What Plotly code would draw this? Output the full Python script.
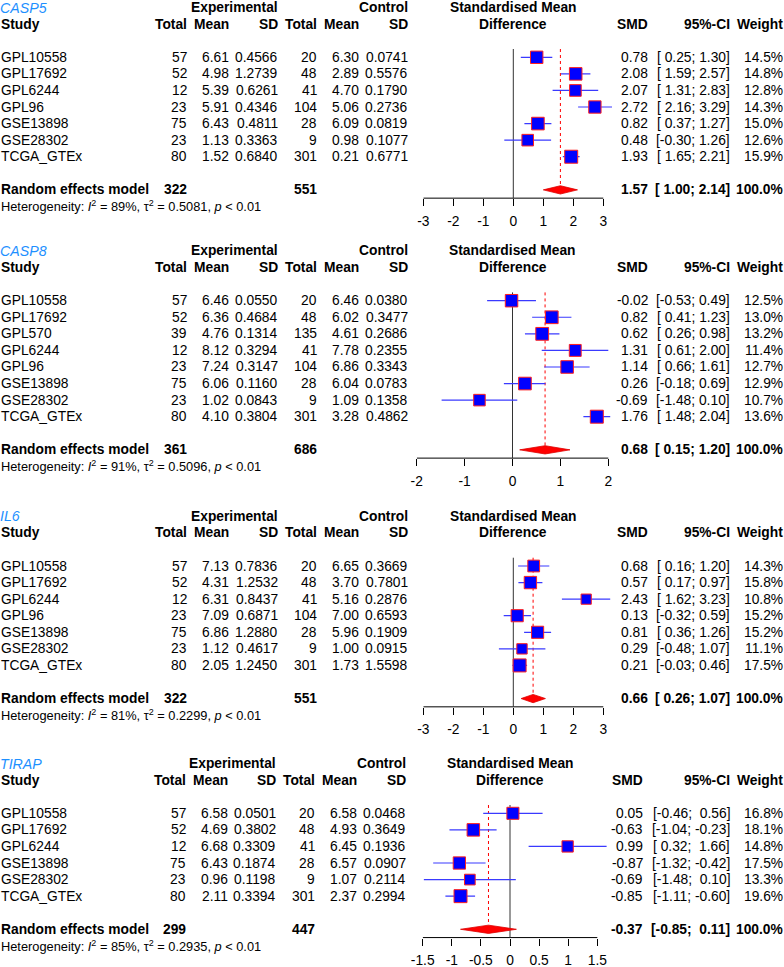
import plotly.graph_objects as go

W, H = 784, 967
FONT = "Liberation Sans, Arial, sans-serif"
FS = 13.8

# ---------------- DATA ----------------
casp5_studies = ["GPL10558", "GPL17692", "GPL6244", "GPL96", "GSE13898", "GSE28302", "TCGA_GTEx"]
casp5_exp_total = [57, 52, 12, 23, 75, 23, 80]
casp5_exp_mean = [6.61, 4.98, 5.39, 5.91, 6.43, 1.13, 1.52]
casp5_exp_sd = [0.4566, 1.2739, 0.6261, 0.4346, 0.4811, 0.3363, 0.6840]
casp5_ctrl_total = [20, 48, 41, 104, 28, 9, 301]
casp5_ctrl_mean = [6.30, 2.89, 4.70, 5.06, 6.09, 0.98, 0.21]
casp5_ctrl_sd = [0.0741, 0.5576, 0.1790, 0.2736, 0.0819, 0.1077, 0.6771]
casp5_smd = [0.78, 2.08, 2.07, 2.72, 0.82, 0.48, 1.93]
casp5_lo = [0.25, 1.59, 1.31, 2.16, 0.37, -0.30, 1.65]
casp5_hi = [1.30, 2.57, 2.83, 3.29, 1.27, 1.26, 2.21]
casp5_weight = [14.5, 14.8, 12.8, 14.3, 15.0, 12.6, 15.9]
casp5_pooled = [322, 551, 1.57, 1.00, 2.14]  # exp total, ctrl total, SMD, lo, hi
casp5_het = [89, 0.5081, "0.01"]
casp5_ticks = [-3, -2, -1, 0, 1, 2, 3]
casp5_ticklabels = ["-3", "-2", "-1", "0", "1", "2", "3"]

casp8_studies = ["GPL10558", "GPL17692", "GPL570", "GPL6244", "GPL96", "GSE13898", "GSE28302", "TCGA_GTEx"]
casp8_exp_total = [57, 52, 39, 12, 23, 75, 23, 80]
casp8_exp_mean = [6.46, 6.36, 4.76, 8.12, 7.24, 6.06, 1.02, 4.10]
casp8_exp_sd = [0.0550, 0.4684, 0.1314, 0.3294, 0.3147, 0.1160, 0.0843, 0.3804]
casp8_ctrl_total = [20, 48, 135, 41, 104, 28, 9, 301]
casp8_ctrl_mean = [6.46, 6.02, 4.61, 7.78, 6.86, 6.04, 1.09, 3.28]
casp8_ctrl_sd = [0.0380, 0.3477, 0.2686, 0.2355, 0.3343, 0.0783, 0.1358, 0.4862]
casp8_smd = [-0.02, 0.82, 0.62, 1.31, 1.14, 0.26, -0.69, 1.76]
casp8_lo = [-0.53, 0.41, 0.26, 0.61, 0.66, -0.18, -1.48, 1.48]
casp8_hi = [0.49, 1.23, 0.98, 2.00, 1.61, 0.69, 0.10, 2.04]
casp8_weight = [12.5, 13.0, 13.2, 11.4, 12.7, 12.9, 10.7, 13.6]
casp8_pooled = [361, 686, 0.68, 0.15, 1.20]
casp8_het = [91, 0.5096, "0.01"]
casp8_ticks = [-2, -1, 0, 1, 2]
casp8_ticklabels = ["-2", "-1", "0", "1", "2"]

il6_studies = ["GPL10558", "GPL17692", "GPL6244", "GPL96", "GSE13898", "GSE28302", "TCGA_GTEx"]
il6_exp_total = [57, 52, 12, 23, 75, 23, 80]
il6_exp_mean = [7.13, 4.31, 6.31, 7.09, 6.86, 1.12, 2.05]
il6_exp_sd = [0.7836, 1.2532, 0.8437, 0.6871, 1.2880, 0.4617, 1.2450]
il6_ctrl_total = [20, 48, 41, 104, 28, 9, 301]
il6_ctrl_mean = [6.65, 3.70, 5.16, 7.00, 5.96, 1.00, 1.73]
il6_ctrl_sd = [0.3669, 0.7801, 0.2876, 0.6593, 0.1909, 0.0915, 1.5598]
il6_smd = [0.68, 0.57, 2.43, 0.13, 0.81, 0.29, 0.21]
il6_lo = [0.16, 0.17, 1.62, -0.32, 0.36, -0.48, -0.03]
il6_hi = [1.20, 0.97, 3.23, 0.59, 1.26, 1.07, 0.46]
il6_weight = [14.3, 15.8, 10.8, 15.2, 15.2, 11.1, 17.5]
il6_pooled = [322, 551, 0.66, 0.26, 1.07]
il6_het = [81, 0.2299, "0.01"]
il6_ticks = [-3, -2, -1, 0, 1, 2, 3]
il6_ticklabels = ["-3", "-2", "-1", "0", "1", "2", "3"]

tirap_studies = ["GPL10558", "GPL17692", "GPL6244", "GSE13898", "GSE28302", "TCGA_GTEx"]
tirap_exp_total = [57, 52, 12, 75, 23, 80]
tirap_exp_mean = [6.58, 4.69, 6.68, 6.43, 0.96, 2.11]
tirap_exp_sd = [0.0501, 0.3802, 0.3309, 0.1874, 0.1198, 0.3394]
tirap_ctrl_total = [20, 48, 41, 28, 9, 301]
tirap_ctrl_mean = [6.58, 4.93, 6.45, 6.57, 1.07, 2.37]
tirap_ctrl_sd = [0.0468, 0.3649, 0.1936, 0.0907, 0.2114, 0.2994]
tirap_smd = [0.05, -0.63, 0.99, -0.87, -0.69, -0.85]
tirap_lo = [-0.46, -1.04, 0.32, -1.32, -1.48, -1.11]
tirap_hi = [0.56, -0.23, 1.66, -0.42, 0.10, -0.60]
tirap_weight = [16.8, 18.1, 14.8, 17.5, 13.3, 19.6]
tirap_pooled = [299, 447, -0.37, -0.85, 0.11]
tirap_het = [85, 0.2935, "0.01"]
tirap_ticks = [-1.5, -1, -0.5, 0, 0.5, 1, 1.5]
tirap_ticklabels = ["-1.5", "-1", "-0.5", "0", "0.5", "1", "1.5"]

genes = ["CASP5", "CASP8", "IL6", "TIRAP"]

# --------------- LAYOUT (positions / styles only) ---------------
S = 16.57  # row spacing in px
COLS_A = [187.3, 229.3, 277.7, 317.3, 359.3, 408.3, 647.7, 730.0, 783.3]
COLS_B = [185.7, 227.7, 276.0, 315.0, 356.7, 405.7, 643.3, 730.0, 783.0]
specs = [
    dict(y0=57.3, xmin_px=423.3, unit=30.0, xr=[-3, 3.4], cols=COLS_A),
    dict(y0=300.7, xmin_px=416.7, unit=47.9, xr=[-2, 2.15], cols=COLS_A),
    dict(y0=566.0, xmin_px=423.3, unit=30.0, xr=[-3, 3.4], cols=COLS_A),
    dict(y0=813.3, xmin_px=422.7, unit=58.2, xr=[-1.5, 1.75], cols=COLS_B),
]

panels = [
    dict(studies=casp5_studies, et=casp5_exp_total, em=casp5_exp_mean, es=casp5_exp_sd,
         ct=casp5_ctrl_total, cm=casp5_ctrl_mean, cs=casp5_ctrl_sd, smd=casp5_smd,
         lo=casp5_lo, hi=casp5_hi, w=casp5_weight, pooled=casp5_pooled, het=casp5_het,
         ticks=casp5_ticks, ticklabels=casp5_ticklabels),
    dict(studies=casp8_studies, et=casp8_exp_total, em=casp8_exp_mean, es=casp8_exp_sd,
         ct=casp8_ctrl_total, cm=casp8_ctrl_mean, cs=casp8_ctrl_sd, smd=casp8_smd,
         lo=casp8_lo, hi=casp8_hi, w=casp8_weight, pooled=casp8_pooled, het=casp8_het,
         ticks=casp8_ticks, ticklabels=casp8_ticklabels),
    dict(studies=il6_studies, et=il6_exp_total, em=il6_exp_mean, es=il6_exp_sd,
         ct=il6_ctrl_total, cm=il6_ctrl_mean, cs=il6_ctrl_sd, smd=il6_smd,
         lo=il6_lo, hi=il6_hi, w=il6_weight, pooled=il6_pooled, het=il6_het,
         ticks=il6_ticks, ticklabels=il6_ticklabels),
    dict(studies=tirap_studies, et=tirap_exp_total, em=tirap_exp_mean, es=tirap_exp_sd,
         ct=tirap_ctrl_total, cm=tirap_ctrl_mean, cs=tirap_ctrl_sd, smd=tirap_smd,
         lo=tirap_lo, hi=tirap_hi, w=tirap_weight, pooled=tirap_pooled, het=tirap_het,
         ticks=tirap_ticks, ticklabels=tirap_ticklabels),
]

NB = "\u00a0"


def fmt_ci(lo_all, hi_all):
    ls = [f"{v:.2f}" for v in lo_all]
    hs = [f"{v:.2f}" for v in hi_all]
    lw = max(len(s) for s in ls)
    hw = max(len(s) for s in hs)
    return ["[" + l.rjust(lw).replace(" ", NB) + ";" + NB + h.rjust(hw).replace(" ", NB) + "]"
            for l, h in zip(ls, hs)]


fig = go.Figure()
annotations = []


def ann(text, xpx, row, k, anchor="right", bold=False, size=FS, color="black"):
    if bold:
        text = f"<b>{text}</b>"
    annotations.append(dict(
        text=text, x=xpx / W, xref="paper", y=row, yref=("y" if k == 1 else f"y{k}"),
        xanchor=anchor, yanchor="middle", showarrow=False, borderpad=0, borderwidth=0,
        font=dict(family=FONT, size=size, color=color),
    ))


layout_axes = {}
for idx, (p, sp) in enumerate(zip(panels, specs)):
    k = idx + 1
    n = len(p["studies"])
    rows = list(range(n))
    prow = n + 1
    axis_row = prow + 0.5
    bottom_row = prow + 1.2
    top_row = -3.4
    y0 = sp["y0"]
    top_px = max(0.0, y0 + top_row * S)
    bot_px = y0 + bottom_row * S
    axis_px = y0 + axis_row * S
    xr = sp["xr"]
    x0px = sp["xmin_px"]
    x1px = x0px + (xr[1] - xr[0]) * sp["unit"]
    zero_px = x0px + (0 - xr[0]) * sp["unit"]
    xs = "x" if k == 1 else f"x{k}"
    ys = "y" if k == 1 else f"y{k}"
    top_row_eff = (top_px - y0) / S

    layout_axes[f"xaxis{k}"] = dict(
        domain=[x0px / W, x1px / W], range=xr, anchor="free",
        position=1 - axis_px / H, showgrid=False, zeroline=False, showline=False,
        tickmode="array", tickvals=p["ticks"], ticktext=p["ticklabels"],
        ticks="outside", ticklen=7, tickwidth=1, tickcolor="black",
        tickfont=dict(family=FONT, size=FS, color="black"), ticklabelstandoff=3,
        fixedrange=True, automargin=False,
    )
    layout_axes[f"yaxis{k}"] = dict(
        domain=[1 - bot_px / H, 1 - top_px / H], range=[bottom_row, top_row_eff],
        visible=False, anchor=xs, fixedrange=True, automargin=False,
    )

    est, plo, phi = p["pooled"][2], p["pooled"][3], p["pooled"][4]
    fig.add_trace(go.Scatter(x=[p["ticks"][0], p["ticks"][-1]], y=[axis_row, axis_row],
                             mode="lines", line=dict(color="black", width=1),
                             xaxis=xs, yaxis=ys, hoverinfo="skip", showlegend=False))
    fig.add_trace(go.Scatter(x=[0, 0], y=[-0.5, axis_row], mode="lines",
                             line=dict(color="#333333", width=1),
                             xaxis=xs, yaxis=ys, hoverinfo="skip", showlegend=False))
    fig.add_trace(go.Scatter(x=[est, est], y=[-0.5, prow - 0.25], mode="lines",
                             line=dict(color="red", width=1, dash="dot"),
                             xaxis=xs, yaxis=ys, hoverinfo="skip", showlegend=False))
    cx, cy = [], []
    for r, l, h in zip(rows, p["lo"], p["hi"]):
        cx += [l, h, None]
        cy += [r, r, None]
    fig.add_trace(go.Scatter(x=cx, y=cy, mode="lines", line=dict(color="#3a3aff", width=1.2),
                             xaxis=xs, yaxis=ys, hoverinfo="skip", showlegend=False))
    wmax = max(p["w"])
    sizes = [13.0 * (w / wmax) ** 0.5 for w in p["w"]]
    fig.add_trace(go.Scatter(x=p["smd"], y=rows, mode="markers",
                             marker=dict(symbol="square", size=sizes, color="#0000ff", opacity=1,
                                         line=dict(color="#ff2020", width=1)),
                             xaxis=xs, yaxis=ys, hoverinfo="skip", showlegend=False,
                             cliponaxis=False))
    fig.add_trace(go.Scatter(x=[plo, est, phi, est, plo], y=[prow, prow - 0.25, prow, prow + 0.25, prow],
                             mode="lines", fill="toself", fillcolor="#ff0000",
                             line=dict(color="#dd0000", width=0.8),
                             xaxis=xs, yaxis=ys, hoverinfo="skip", showlegend=False))

    c = sp["cols"]
    ann(f"<i>{genes[idx]}</i>", 0, -3, k, anchor="left", color="#1E90FF", size=FS + 0.4)
    ann("Experimental", c[2], -3, k, bold=True)
    ann("Control", c[5], -3, k, bold=True)
    ann("Standardised Mean", zero_px, -3, k, anchor="center", bold=True)
    ann("Study", 1, -2, k, anchor="left", bold=True)
    for j, lab in enumerate(["Total", "Mean", "SD", "Total", "Mean", "SD"]):
        ann(lab, c[j], -2, k, bold=True)
    ann("Difference", zero_px, -2, k, anchor="center", bold=True)
    ann("SMD", c[6], -2, k, bold=True)
    ann("95%-CI", c[7], -2, k, bold=True)
    ann("Weight", c[8], -2, k, bold=True)

    cis = fmt_ci(p["lo"] + [plo], p["hi"] + [phi])
    for r in rows:
        ann(p["studies"][r], 1, r, k, anchor="left")
        ann(str(p["et"][r]), c[0], r, k)
        ann(f"{p['em'][r]:.2f}", c[1], r, k)
        ann(f"{p['es'][r]:.4f}", c[2], r, k)
        ann(str(p["ct"][r]), c[3], r, k)
        ann(f"{p['cm'][r]:.2f}", c[4], r, k)
        ann(f"{p['cs'][r]:.4f}", c[5], r, k)
        ann(f"{p['smd'][r]:.2f}", c[6], r, k)
        ann(cis[r], c[7], r, k)
        ann(f"{p['w'][r]:.1f}%", c[8], r, k)

    ann("Random effects model", 1, prow, k, anchor="left", bold=True)
    ann(str(p["pooled"][0]), c[0], prow, k, bold=True)
    ann(str(p["pooled"][1]), c[3], prow, k, bold=True)
    ann(f"{est:.2f}", c[6], prow, k, bold=True)
    ann(cis[-1], c[7], prow, k, bold=True)
    ann("100.0%", c[8], prow, k, bold=True)
    i2, tau2, pv = p["het"]
    ann(f"Heterogeneity: <i>I</i><sup>2</sup> = {i2}%, τ<sup>2</sup> = {tau2:.4f}, <i>p</i> &lt; {pv}",
        1, prow + 1, k, anchor="left", size=12.8)

fig.update_layout(
    template="none",
    width=W, height=H, autosize=False,
    margin=dict(l=0, r=0, t=0, b=0, pad=0, autoexpand=False),
    paper_bgcolor="white", plot_bgcolor="rgba(0,0,0,0)",
    showlegend=False, annotations=annotations,
    font=dict(family=FONT, size=FS, color="black"),
    **layout_axes,
)

fig.write_html(
    "out.html",
    config={"displayModeBar": False, "responsive": False},
    post_script="document.body.style.margin='0px';document.body.style.padding='0px';"
                "document.body.style.overflow='hidden';",
)
